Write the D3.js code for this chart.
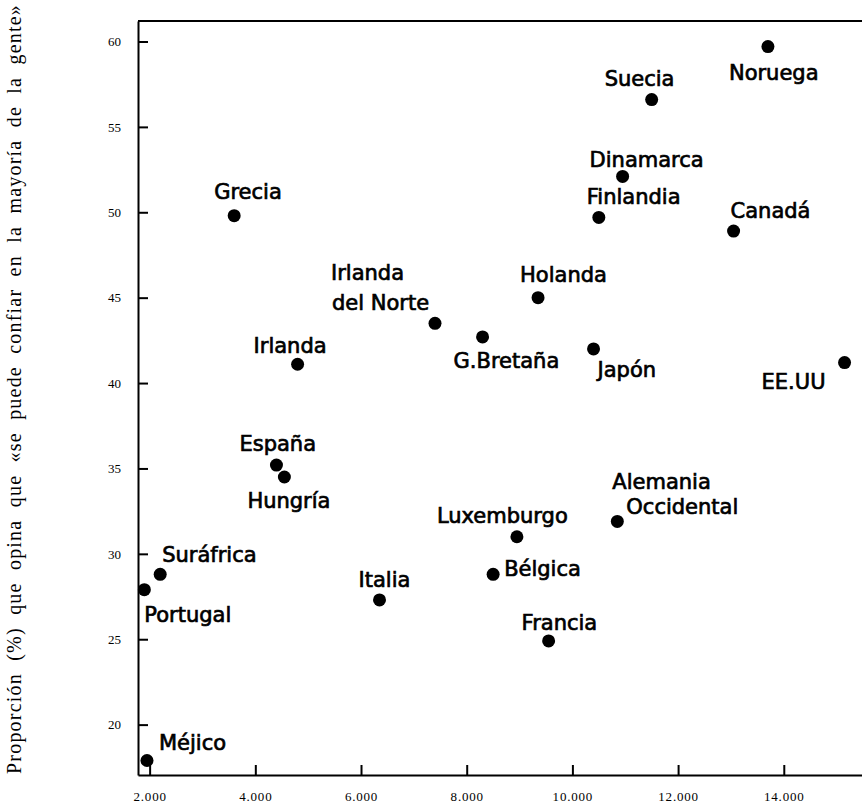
<!DOCTYPE html>
<html>
<head>
<meta charset="utf-8">
<script src="https://cdn.jsdelivr.net/npm/d3@7"></script>
<style>
  html, body { margin: 0; padding: 0; background: #fff; }
  svg { display: block; }
  .lbl { font-family: "DejaVu Sans", sans-serif; font-size: 21px; fill: #000; stroke: #000; stroke-width: 0.7px; }
  .axis text { font-family: "Liberation Serif", serif; font-size: 13px; fill: #000; }
  .axis path, .axis line { stroke: #000; stroke-width: 2px; }
  .ytitle { font-family: "Liberation Serif", serif; font-size: 20px; fill: #000; letter-spacing: 1.2px; }
</style>
</head>
<body>
<svg id="chart" width="862" height="805"></svg>
<script>
const countries = ['Noruega', 'Suecia', 'Dinamarca', 'Finlandia', 'Canadá', 'Grecia',
  'Holanda', 'Irlanda\ndel Norte', 'G.Bretaña', 'Japón', 'Irlanda', 'EE.UU',
  'Alemania\nOccidental', 'España', 'Hungría', 'Suráfrica', 'Portugal', 'Méjico',
  'Luxemburgo', 'Bélgica', 'Italia', 'Francia'];
// renta per cápita (x) and % trust (y)
const income = [13700, 11500, 10950, 10500, 13050, 3600,
  9350, 7400, 8300, 10400, 4800, 15150,
  10850, 4400, 4550, 2200, 1900, 1950,
  8950, 8500, 6350, 9550];
const trust = [59.7, 56.6, 52.1, 49.7, 48.9, 49.8,
  45.0, 43.5, 42.7, 42.0, 41.1, 41.2,
  31.9, 35.2, 34.5, 28.8, 27.9, 17.9,
  31.0, 28.8, 27.3, 24.9];

const xTicks = [2000, 4000, 6000, 8000, 10000, 12000, 14000];
const yTicks = [20, 25, 30, 35, 40, 45, 50, 55, 60];
const yTitle = 'Proporción (%) que opina que «se puede confiar en la mayoría de la gente»';

// where each label sits relative to its dot (px), one pair per text line
const labelOffsets = {
  'Noruega': [[-39, 33]],
  'Suecia': [[-47, -14]],
  'Dinamarca': [[-33, -9]],
  'Finlandia': [[-12, -13]],
  'Canadá': [[-3, -13]],
  'Grecia': [[-20, -17]],
  'Holanda': [[-18, -16]],
  'Irlanda\ndel Norte': [[-104, -43], [-103, -13]],
  'G.Bretaña': [[-29, 31]],
  'Japón': [[4, 28]],
  'Irlanda': [[-44, -11]],
  'EE.UU': [[-83, 26]],
  'Alemania\nOccidental': [[-5, -32], [9, -7]],
  'España': [[-37, -14]],
  'Hungría': [[-37, 31]],
  'Suráfrica': [[2, -12]],
  'Portugal': [[0, 32]],
  'Méjico': [[12, -10]],
  'Luxemburgo': [[-80, -14]],
  'Bélgica': [[11, 2]],
  'Italia': [[-21, -13]],
  'Francia': [[-27, -11]]
};

const data = countries.map((name, i) => ({ name, x: income[i], y: trust[i] }));

const svg = d3.select('#chart');
const x = d3.scaleLinear().domain([1780, 15480]).range([138, 862]);
const y = d3.scaleLinear().domain([17.05, 61.2]).range([775, 21]);

const es = d3.formatLocale({ decimal: ',', thousands: '.', grouping: [3], currency: ['', ' €'] });

// axes, ticks pointing inwards
const xAxis = svg.append('g')
  .attr('class', 'axis')
  .attr('transform', `translate(0,${y(17.05)})`)
  .call(d3.axisBottom(x).tickValues(xTicks).tickFormat(es.format(','))
    .tickSizeInner(-10).tickSizeOuter(0).tickPadding(17));
xAxis.selectAll('text').attr('letter-spacing', '0.8px');

svg.append('g')
  .attr('class', 'axis')
  .attr('transform', `translate(${x(1780)},0)`)
  .call(d3.axisLeft(y).tickValues(yTicks).tickFormat(d3.format('d'))
    .tickSizeInner(-10).tickSizeOuter(0).tickPadding(17));

// top border
svg.append('line')
  .attr('x1', x(1780)).attr('x2', x(15480))
  .attr('y1', y(61.2)).attr('y2', y(61.2))
  .attr('stroke', '#000').attr('stroke-width', 2);

// points
svg.append('g').selectAll('circle')
  .data(data)
  .join('circle')
  .attr('cx', d => x(d.x))
  .attr('cy', d => y(d.y))
  .attr('r', 6.5)
  .attr('fill', '#000');

// labels
data.forEach(d => {
  const lines = d.name.split('\n');
  const offs = labelOffsets[d.name];
  lines.forEach((line, j) => {
    svg.append('text')
      .attr('class', 'lbl')
      .attr('x', x(d.x) + offs[j][0])
      .attr('y', y(d.y) + offs[j][1])
      .text(line);
  });
});

// y title, stretched over the axis height like the printed one
const title = svg.append('text')
  .attr('class', 'ytitle')
  .attr('text-anchor', 'middle')
  .attr('transform', 'translate(21,389) rotate(-90)')
  .text(yTitle);
const natural = title.node().getComputedTextLength();
const gaps = yTitle.split(' ').length - 1;
title.attr('word-spacing', Math.max(0, (770 - natural) / gaps));
</script>
</body>
</html>
